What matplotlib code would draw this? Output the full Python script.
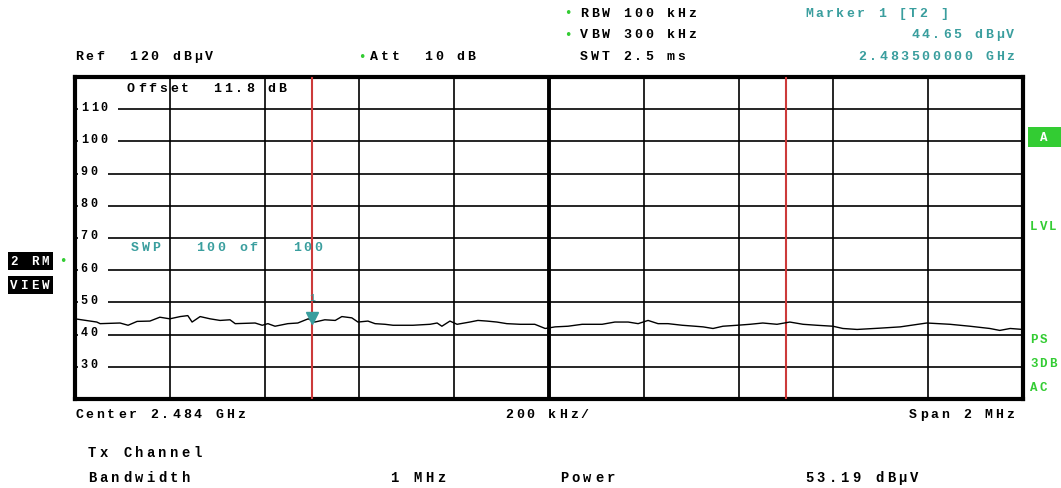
import numpy as np
import matplotlib
matplotlib.use('Agg')
import matplotlib.pyplot as plt
from matplotlib.transforms import offset_copy
from matplotlib.patches import Rectangle

# trace: offset from start frequency (kHz) and level (dBuV)
freq_khz = [0, 46, 53, 95, 112, 131, 158, 179, 200, 222, 238, 247, 264, 285,
            306, 327, 338, 380, 395, 407, 422, 449, 470, 492, 506, 527, 549,
            563, 584, 597, 618, 633, 654, 671, 713, 749, 764, 774, 791, 806,
            833, 850, 869, 890, 911, 939, 970, 992, 1013, 1040, 1070, 1112,
            1139, 1167, 1188, 1209, 1230, 1251, 1281, 1308, 1325, 1346, 1367,
            1397, 1424, 1451, 1481, 1508, 1536, 1565, 1599, 1620, 1650, 1698,
            1741, 1797, 1846, 1888, 1930, 1951, 1973, 2000]
level_dbuv = [44.9, 43.9, 43.4, 43.6, 42.9, 44.1, 44.2, 45.4, 44.9, 45.6, 45.9,
              43.9, 45.6, 44.9, 44.4, 44.6, 43.4, 43.6, 42.9, 43.4, 42.6, 43.4,
              43.6, 44.9, 43.9, 44.6, 44.4, 45.6, 45.2, 43.9, 44.2, 43.4, 43.2,
              42.9, 42.9, 43.2, 43.6, 42.6, 44.2, 43.2, 43.9, 44.4, 44.2, 43.9,
              43.4, 43.2, 43.2, 41.9, 42.4, 42.6, 43.2, 43.2, 43.9, 43.9, 43.4,
              44.4, 43.4, 43.4, 42.9, 42.6, 42.4, 41.9, 42.6, 42.9, 43.2, 43.6,
              43.2, 43.9, 43.2, 42.9, 42.6, 41.9, 41.6, 42.0, 42.4, 43.6, 43.2,
              42.6, 41.9, 41.3, 41.9, 41.6]

start_mhz = 2483.0
stop_mhz = 2485.0
ref_level = 120
bottom_level = 20
channel_lo = 2483.5
channel_hi = 2484.5
marker_freq = 2483.5
marker_level = 44.65
y_ticks = [110, 100, 90, 80, 70, 60, 50, 40, 30]

W, H = 1061, 489
teal = '#3a9e9e'
green = '#33cc33'
red = '#cc3a3a'
mono = 'Liberation Mono'

fig = plt.figure(figsize=(W / 100, H / 100), dpi=100)
fig.patch.set_facecolor('white')


def spaced(x, y, s, trans, pitch=10.8, color='black', size=9.5, weight='bold', target=None):
    # draw text char by char with a fixed pitch (pixels), like the analyzer font
    target = target or fig
    for i, ch in enumerate(s):
        if ch == ' ':
            continue
        t = offset_copy(trans, fig=fig, x=i * pitch, y=0, units='dots')
        target.text(x, y, ch, transform=t, ha='left', va='center', color=color,
                    fontsize=size, fontweight=weight, family=mono)


def px(x, y):
    return x / W, 1 - y / H


def ftext(x, y, s, **kw):
    fx, fy = px(x, y)
    spaced(fx, fy, s, fig.transFigure, **kw)


ax = fig.add_axes([75 / W, 1 - 400 / H, (1023 - 75) / W, (400 - 78) / H])
ax.set_xlim(start_mhz, stop_mhz)
ax.set_ylim(bottom_level, ref_level)
ax.set_xticks([])
ax.set_yticks([])
for sp in ax.spines.values():
    sp.set_linewidth(3)

div = (stop_mhz - start_mhz) / 10
for k in range(1, 10):
    ax.axvline(start_mhz + k * div, color='black', lw=2.8 if k == 5 else 1.2, zorder=1)
for v in y_ticks:
    # grid line starts after the level label, with a short tick at the frame
    lab = str(v)
    ax.hlines(v, start_mhz + 0.028 + 0.021 * len(lab), stop_mhz, color='black', lw=1.2, zorder=1)
    ax.hlines(v, start_mhz, start_mhz + 0.006, color='black', lw=1.2, zorder=1)
    spaced(start_mhz + 0.012, v + 0.8, lab, ax.transData, pitch=10, size=8.5, target=ax)

ax.axvline(channel_lo, color=red, lw=1.5, zorder=3)
ax.axvline(channel_hi, color=red, lw=1.5, zorder=3)

x = start_mhz + np.array(freq_khz) / 1000
ax.plot(x, level_dbuv, color='black', lw=1.0, zorder=4)

ax.plot([marker_freq], [marker_level + 0.6], marker='v', color=teal, ms=8, zorder=5)
ax.annotate('1', (marker_freq, marker_level), xytext=(0, 16), textcoords='offset points',
            ha='center', va='center', color=teal, fontsize=7, family=mono, zorder=5)

# texts inside the grid
spaced(start_mhz + 0.1096, 116.5, 'Offset  11.8 dB', ax.transData, target=ax)
spaced(start_mhz + 0.118, 67.2, 'SWP   100 of   100', ax.transData, color=teal, target=ax)

# header
ftext(580, 14, 'RBW 100 kHz')
ftext(580, 35, 'VBW 300 kHz')
ftext(580, 57, 'SWT 2.5 ms')
ftext(75, 57, 'Ref  120 dB\u00b5V')
ftext(370, 57, 'Att  10 dB')
for gx, gy in [(568, 14), (568, 35), (362, 57), (63, 262)]:
    fig.text(*px(gx, gy), '\u2022', color=green, fontsize=9, ha='center', va='center')

ftext(805, 14, 'Marker 1 [T2 ]', color=teal, pitch=10.4)
lvl = f'{marker_level:.2f} dB\u00b5V'
ftext(1017 - len(lvl) * 10.6, 35, lvl, color=teal, pitch=10.6)
fq = f'{marker_freq / 1000:.9f} GHz'
ftext(1017 - len(fq) * 10.6, 57, fq, color=teal, pitch=10.6)

# left status boxes
for by, lab in [(262, '2 RM'), (286, 'VIEW')]:
    fig.patches.append(Rectangle(px(8, by + 9), 45 / W, 18 / H, transform=fig.transFigure,
                                 fc='black', ec='none'))
    ftext(10, by, lab, color='white', pitch=10.5, size=9)

# right status
fig.patches.append(Rectangle(px(1028, 148), 33 / W, 20 / H, transform=fig.transFigure,
                             fc=green, ec='none'))
ftext(1040, 138, 'A', color='white', size=9)
ftext(1030, 227, 'LVL', color=green, pitch=9.5, size=9)
ftext(1030, 340, 'PS', color=green, pitch=9.5, size=9)
ftext(1030, 364, '3DB', color=green, pitch=9.5, size=9)
ftext(1030, 388, 'AC', color=green, pitch=9.5, size=9)

# footer
ftext(75, 415, 'Center 2.484 GHz')
ftext(505, 415, '200 kHz/')
ftext(1017 - 10 * 10.8, 415, 'Span 2 MHz')
ftext(88, 453, 'Tx Channel', pitch=11.7, size=10)
ftext(88, 478, 'Bandwidth', pitch=11.7, size=10)
ftext(390, 478, '1 MHz', pitch=11.7, size=10)
ftext(560, 478, 'Power', pitch=11.7, size=10)
ftext(805, 478, '53.19 dB\u00b5V', pitch=11.7, size=10)

fig.savefig('out.png', dpi=100)
